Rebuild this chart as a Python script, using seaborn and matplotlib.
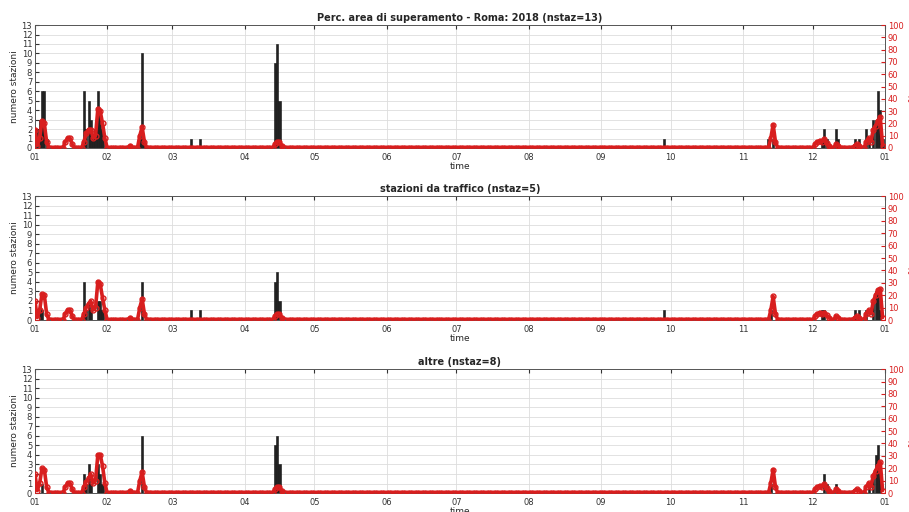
import numpy as np
import pandas as pd
import matplotlib
matplotlib.use("Agg")
import matplotlib.pyplot as plt
import matplotlib.dates as mdates
import seaborn as sns

# day-of-year (0 = 1 Jan 2018) -> value, every other day is 0
top_bar_days = [1, 2, 3, 4, 5, 21, 22, 23, 24, 25, 26, 27, 28, 29, 45, 46, 47, 67, 71,
                103, 104, 105, 270, 315, 317, 338, 339, 340, 344, 345, 352, 354, 357,
                358, 360, 361, 362, 363, 364]
top_bar_vals = [2, 3, 6, 6, 1, 6, 2, 5, 3, 1, 2, 6, 4, 2, 1, 10, 1, 1, 1,
                9, 11, 5, 1, 1, 1, 1, 2, 1, 2, 1, 1, 1, 2,
                1, 3, 3, 6, 4, 1]
top_perc_days = [0, 1, 2, 3, 4, 5, 13, 14, 15, 16, 21, 22, 23, 24, 25, 26, 27, 28, 29, 30,
                 41, 45, 46, 47, 103, 104, 105, 106, 316, 317, 318, 335, 336, 337, 338, 339,
                 340, 341, 344, 345, 352, 353, 354, 357, 358, 359, 360, 361, 362, 363, 364]
top_perc_vals = [15, 2, 8, 22, 20, 5, 5, 8, 8, 3, 5, 12, 15, 15, 8, 10, 32, 30, 20, 8,
                 2, 10, 17, 5, 3, 5, 5, 2, 8, 19, 5, 3, 5, 6, 5, 7,
                 4, 2, 3, 2, 2, 3, 2, 5, 8, 5, 15, 18, 22, 25, 2]

traffic_bar_days = [2, 3, 21, 22, 23, 24, 27, 28, 29, 46, 67, 71, 103, 104, 105, 270,
                    316, 338, 339, 352, 354, 357, 360, 361, 362, 363]
traffic_bar_vals = [2, 1, 4, 1, 2, 1, 2, 2, 1, 4, 1, 1, 4, 5, 2, 1,
                    1, 1, 1, 1, 1, 1, 2, 3, 3, 1]
traffic_perc_days = [0, 1, 2, 3, 4, 5, 13, 14, 15, 16, 21, 22, 23, 24, 25, 26, 27, 28, 29, 30,
                     41, 45, 46, 47, 103, 104, 105, 106, 316, 317, 318, 335, 336, 337, 338,
                     339, 340, 341, 344, 345, 352, 353, 354, 357, 358, 359, 360, 361, 362,
                     363, 364]
traffic_perc_vals = [15, 2, 8, 21, 20, 5, 5, 8, 8, 3, 5, 10, 13, 15, 8, 10, 31, 29, 18, 8,
                     2, 10, 17, 5, 3, 5, 5, 2, 8, 19, 5, 3, 5, 6, 5,
                     6, 4, 2, 3, 2, 2, 3, 2, 5, 8, 5, 15, 20, 24, 25, 2]

altre_bar_days = [3, 21, 22, 23, 24, 27, 28, 29, 46, 103, 104, 105, 316, 339, 340, 344,
                  358, 360, 361, 362, 363]
altre_bar_vals = [1, 2, 1, 3, 1, 3, 2, 1, 6, 5, 6, 3, 1, 2, 1, 1,
                  1, 2, 4, 5, 2]
altre_perc_days = [0, 1, 2, 3, 4, 5, 13, 14, 15, 16, 21, 22, 23, 24, 25, 26, 27, 28, 29, 30,
                   41, 45, 46, 47, 103, 104, 105, 106, 316, 317, 318, 335, 336, 337, 338,
                   339, 340, 341, 344, 345, 352, 353, 354, 357, 358, 359, 360, 361, 362,
                   363, 364]
altre_perc_vals = [15, 2, 8, 20, 19, 5, 5, 8, 8, 3, 5, 9, 12, 15, 8, 10, 31, 31, 22, 8,
                   2, 10, 17, 5, 3, 5, 5, 2, 8, 19, 5, 3, 5, 6, 5,
                   7, 4, 2, 3, 2, 2, 3, 2, 5, 8, 5, 14, 18, 22, 25, 2]

titles = ["Perc. area di superamento - Roma: 2018 (nstaz=13)",
          "stazioni da traffico (nstaz=5)",
          "altre (nstaz=8)"]

dates = pd.date_range("2018-01-01", "2018-12-31", freq="D")


def daily(days, vals):
    s = np.zeros(len(dates))
    s[days] = vals
    return s


panels = [
    (top_bar_days, top_bar_vals, top_perc_days, top_perc_vals),
    (traffic_bar_days, traffic_bar_vals, traffic_perc_days, traffic_perc_vals),
    (altre_bar_days, altre_bar_vals, altre_perc_days, altre_perc_vals),
]

sns.set_style("whitegrid")
plt.rcParams['font.family'] = ['DejaVu Sans']

fig = plt.figure(figsize=(9.09, 5.12), dpi=100)
boxes = [[0.0385, 0.711, 0.935, 0.240],
         [0.0385, 0.375, 0.935, 0.242],
         [0.0385, 0.037, 0.935, 0.242]]
red = "#d81e1e"

for box, title, (bd, bv, pd_, pv) in zip(boxes, titles, panels):
    ax = fig.add_axes(box)
    counts = daily(bd, bv)
    perc = daily(pd_, pv)

    ax.bar(dates, counts, width=0.9, color="#222222", edgecolor="#111111", linewidth=0.4)
    ax.set_ylim(0, 13)
    ax.set_yticks(range(0, 14))
    ax.set_xlim(pd.Timestamp("2018-01-01"), pd.Timestamp("2019-01-01"))
    ax.xaxis.set_major_locator(mdates.MonthLocator())
    ax.xaxis.set_major_formatter(mdates.DateFormatter("%m"))
    ax.grid(True, color="#dddddd", linewidth=0.6)
    ax.tick_params(axis="both", labelsize=6, length=3, direction="in", pad=2,
                   colors="#333333", right=True, top=True)
    ax.tick_params(axis="x", pad=3.5)
    ax.set_ylabel("numero stazioni", fontsize=6.5, labelpad=2)
    ax.set_xlabel("time", fontsize=6.5, labelpad=0)
    ax.set_title(title, fontsize=7, fontweight="bold", pad=3)
    for sp in ax.spines.values():
        sp.set_color("#555555")
        sp.set_linewidth(0.7)

    ax2 = ax.twinx()
    sns.lineplot(x=dates, y=perc, ax=ax2, color=red, linewidth=2.6,
                 marker="o", markersize=3.5, markeredgecolor=red,
                 markerfacecolor="none", markeredgewidth=1.0)
    ax2.set_ylim(0, 100)
    ax2.set_yticks(range(0, 101, 10))
    ax2.grid(False)
    ax2.tick_params(axis="y", labelsize=6, length=3, direction="in", pad=2,
                    colors=red)
    ax2.set_ylabel("% area", fontsize=6.5, color=red, labelpad=4)
    for sp in ax2.spines.values():
        sp.set_visible(False)

fig.savefig("out.png", dpi=100)
